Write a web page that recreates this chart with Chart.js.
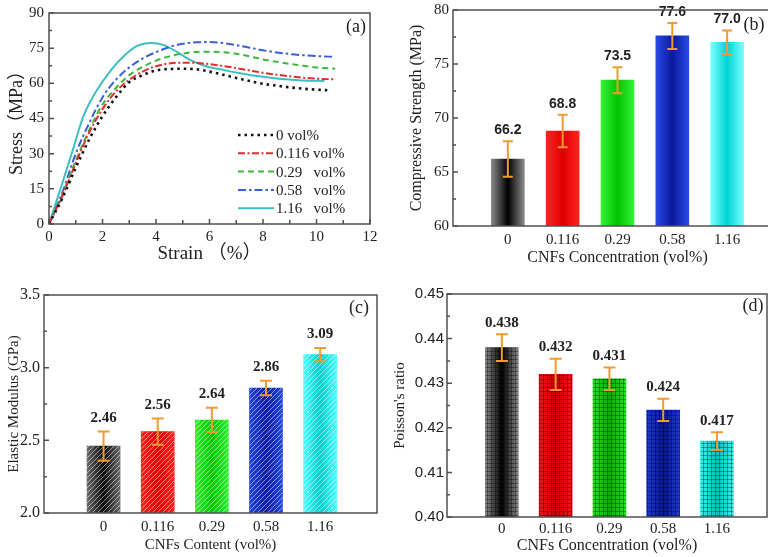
<!DOCTYPE html>
<html><head><meta charset="utf-8">
<script src="https://cdn.jsdelivr.net/npm/chart.js@4.4.1/dist/chart.umd.min.js"></script>
<style>
html,body{margin:0;padding:0;overflow:hidden;background:#fff;width:768px;height:557px}
#wrap{position:relative;width:768px;height:557px;overflow:hidden}
canvas{position:absolute;left:0;top:0}
</style></head><body>
<div id="wrap">
<canvas id="ca" width="768" height="557"></canvas>
<canvas id="cb" width="800" height="557"></canvas>
<canvas id="cc" width="768" height="557"></canvas>
<canvas id="cd" width="768" height="557"></canvas>
</div>
<script>
// ---------------- data ----------------
const seriesLabels = ['0 vol%', '0.116 vol%', '0.29   vol%', '0.58   vol%', '1.16   vol%'];
const strainA = [0,0.5,1,1.5,2,2.5,3,3.5,4,4.5,5,5.5,6,6.5,7,7.5,8,8.5,9,9.5,10,10.5];
const stress0 = [0,11,24,36,46,54,60.5,63.5,65.5,66.1,66.2,66,65,63.7,62.3,61,59.8,59,58.3,57.7,57.3,57];
const strainB = [0,0.5,1,1.5,2,2.5,3,3.5,4,4.5,5,5.5,6,6.5,7,7.5,8,8.5,9,9.5,10,10.7];
const stress0116 = [0,12,26,39,49,56.5,61.5,65,67.3,68.5,68.8,68.7,68.2,67.4,66.5,65.5,64.5,63.7,63,62.4,62,61.7];
const stress029 = [0,12.5,27,40,51,58,63.5,67,69.7,71.5,72.7,73.4,73.5,73.3,72.6,71.5,70.2,69.2,68.3,67.5,66.8,66.2];
const stress058 = [0,13.5,30,43,54,61.5,66.8,70.6,73.3,75.5,76.9,77.5,77.6,77.2,76.3,75.2,74.1,73.2,72.5,72,71.6,71.3];
const strainC = [0,0.5,0.91,1.28,1.72,2.34,2.84,3.28,3.84,4.27,4.77,5.27,5.9,6.4,7,7.5,8,8.5,9,9.5,10.3];
const stress116 = [0,17.5,32.3,45.8,55.8,66,72.1,75.9,77.2,76.4,73.5,70,67.2,66,64.6,63.6,62.8,62.1,61.6,61.2,61];

const concLabels = ['0', '0.116', '0.29', '0.58', '1.16'];
const strength = [66.2, 68.8, 73.5, 77.6, 77.0];
const strengthErr = [1.65, 1.5, 1.2, 1.2, 1.1];
const modulus = [2.46, 2.56, 2.64, 2.86, 3.09];
const modulusErr = [0.10, 0.09, 0.085, 0.05, 0.045];
const poisson = [0.438, 0.432, 0.431, 0.424, 0.417];
const poissonErr = [0.003, 0.0035, 0.0025, 0.0025, 0.002];

// ---------------- styles ----------------
const SERIF = '"Liberation Serif", "Noto Sans CJK SC", serif';
const SANS = '"Liberation Sans", Arial, sans-serif';
const TXT = '#222';
const lineColors = ['#111111', '#e42a2a', '#3bb83b', '#3a5fdc', '#3dbfbf'];
const lineDashes = [[2.5, 4], [7, 2.5, 2, 2.5], [6, 4], [8, 3, 2.5, 3], []];
const lineWidths = [2.6, 2, 2, 2, 2];
const edgeB = ['#8a8a8a', '#ff2424', '#38f038', '#2a4ae6', '#7affff'];
const centerB = ['#000000', '#dd0000', '#00c400', '#0a1a9e', '#00d4d4'];
const edgeC = ['#6a6a6a', '#ff2020', '#30f030', '#2446e0', '#50ffff'];
const centerC = ['#0a0a0a', '#e00000', '#00c800', '#0a1ca8', '#00cccc'];
const edgeD = ['#8a8a8a', '#f01818', '#22e622', '#1c3ad8', '#40f0f0'];
const centerD = ['#000000', '#c80000', '#00b000', '#081890', '#00c0c0'];

function fixSize(w, h) {
  return (s) => {
    if (w != null) s.width = w;
    if (h != null) s.height = h;
    s.paddingLeft = s.paddingRight = s.paddingTop = s.paddingBottom = 0;
  };
}

function framePlugin(o) {
  return {
    id: 'frame' + o.letter,
    afterDraw(chart) {
      const {ctx, chartArea: a} = chart;
      ctx.save();
      ctx.strokeStyle = '#505050'; ctx.lineWidth = 1.5;
      ctx.strokeRect(a.left, a.top, a.right - a.left, a.bottom - a.top);
      const ys = chart.scales.y;
      const yt = ys.ticks.map(t => ys.getPixelForValue(t.value));
      ctx.beginPath();
      yt.forEach((p, i) => {
        ctx.moveTo(a.left, p); ctx.lineTo(a.left + 5, p);
        if (i > 0) { const m = (p + yt[i - 1]) / 2; ctx.moveTo(a.left, m); ctx.lineTo(a.left + 3, m); }
      });
      if (o.xTicks) {
        const xs = chart.scales.x;
        const xt = xs.ticks.map(t => xs.getPixelForValue(t.value));
        xt.forEach((p, i) => {
          ctx.moveTo(p, a.bottom); ctx.lineTo(p, a.bottom - 5);
          if (i > 0) { const m = (p + xt[i - 1]) / 2; ctx.moveTo(m, a.bottom); ctx.lineTo(m, a.bottom - 4); }
        });
      }
      ctx.stroke();
      ctx.fillStyle = TXT; ctx.font = o.font || ('18px ' + SERIF);
      ctx.textAlign = 'center'; ctx.textBaseline = 'middle';
      ctx.fillText('(' + o.letter + ')', o.lx, o.ly);
      ctx.restore();
    }
  };
}

function gradFill(edges, centers, half) {
  return (c) => {
    const chart = c.chart, xs = chart.scales && chart.scales.x;
    const i = c.dataIndex;
    if (c.type !== 'data' || !xs || !chart.chartArea) return centers[i] || '#888';
    const cx = xs.getPixelForValue(i);
    const g = chart.ctx.createLinearGradient(cx - half, 0, cx + half, 0);
    g.addColorStop(0, edges[i]); g.addColorStop(0.5, centers[i]); g.addColorStop(1, edges[i]);
    return g;
  };
}

function makePattern(kind) {
  const cv = document.createElement('canvas');
  const c = cv.getContext('2d');
  if (kind === 'hatch') {
    cv.width = 5; cv.height = 5;
    c.strokeStyle = 'rgba(255,255,255,0.5)'; c.lineWidth = 1;
    c.beginPath();
    c.moveTo(-1, 6); c.lineTo(6, -1);
    c.moveTo(-1, 1); c.lineTo(1, -1);
    c.moveTo(4, 6); c.lineTo(6, 4);
    c.stroke();
  } else {
    cv.width = 4; cv.height = 4;
    c.fillStyle = 'rgba(0,0,0,0.33)';
    c.fillRect(3, 0, 1, 4); c.fillRect(0, 3, 4, 1);
  }
  return c.createPattern(cv, 'repeat');
}

function barDeco(o) {
  return {
    id: 'deco',
    afterDatasetsDraw(chart) {
      const ctx = chart.ctx, ys = chart.scales.y, a = chart.chartArea;
      const meta = chart.getDatasetMeta(0);
      ctx.save();
      if (o.pattern) {
        const pat = makePattern(o.pattern);
        ctx.save();
        ctx.beginPath(); ctx.rect(a.left, a.top, a.right - a.left, a.bottom - a.top); ctx.clip();
        meta.data.forEach(el => {
          ctx.fillStyle = pat;
          ctx.fillRect(el.x - el.width / 2, el.y, el.width, el.base - el.y);
        });
        ctx.restore();
      }
      ctx.strokeStyle = '#f29a2e'; ctx.lineWidth = 2;
      ctx.fillStyle = TXT; ctx.font = o.font;
      ctx.textAlign = 'center'; ctx.textBaseline = 'bottom';
      meta.data.forEach((el, i) => {
        const v = o.values[i], e = o.errors[i];
        const t = ys.getPixelForValue(v + e), b = ys.getPixelForValue(v - e);
        const x = el.x;
        ctx.beginPath();
        ctx.moveTo(x, t); ctx.lineTo(x, b);
        ctx.moveTo(x - o.cap, t); ctx.lineTo(x + o.cap, t);
        ctx.moveTo(x - o.cap, b); ctx.lineTo(x + o.cap, b);
        ctx.stroke();
        ctx.fillText(v.toFixed(o.decimals), x, t - o.gap);
      });
      ctx.restore();
    }
  };
}

const legendA = {
  id: 'legendA',
  afterDraw(chart) {
    const ctx = chart.ctx;
    ctx.save();
    ctx.font = '15px ' + SERIF; ctx.fillStyle = TXT;
    ctx.textAlign = 'left'; ctx.textBaseline = 'middle';
    chart.data.datasets.forEach((ds, i) => {
      const y = 135 + i * 18.3;
      ctx.strokeStyle = ds.borderColor; ctx.lineWidth = ds.borderWidth;
      ctx.setLineDash(ds.borderDash || []);
      ctx.beginPath(); ctx.moveTo(238, y); ctx.lineTo(274, y); ctx.stroke();
      ctx.setLineDash([]);
      ctx.fillText(ds.label, 276, y + 1);
    });
    ctx.restore();
  }
};

Chart.defaults.font.family = SERIF;
Chart.defaults.color = TXT;

const common = { responsive: false, animation: false, devicePixelRatio: 1, events: [] };

function xyOf(xs, ys) { return xs.map((x, i) => ({x, y: ys[i]})); }

// -------- (a) stress-strain --------
const curves = [[strainA, stress0], [strainB, stress0116], [strainB, stress029], [strainB, stress058], [strainC, stress116]];
new Chart(document.getElementById('ca'), {
  type: 'line',
  data: {
    datasets: curves.map((c, i) => ({
      label: seriesLabels[i], data: xyOf(c[0], c[1]),
      borderColor: lineColors[i], borderDash: lineDashes[i], borderWidth: lineWidths[i],
      pointRadius: 0, fill: false, cubicInterpolationMode: 'monotone'
    }))
  },
  options: Object.assign({}, common, {
    layout: { padding: { left: 6, right: 398, top: 13, bottom: 292 } },
    plugins: { legend: { display: false }, tooltip: { enabled: false } },
    scales: {
      x: { type: 'linear', min: 0, max: 12, offset: false,
        ticks: { stepSize: 2, padding: 4, font: { size: 15 }, maxRotation: 0 },
        grid: { display: false, drawTicks: false }, border: { display: false },
        title: { display: true, text: 'Strain （%）', font: { size: 19 }, padding: 0 },
        afterFit: fixSize(null, 41) },
      y: { min: 0, max: 90,
        ticks: { stepSize: 15, padding: 5, font: { size: 15 } },
        grid: { display: false, drawTicks: false }, border: { display: false },
        title: { display: true, text: 'Stress（MPa）', font: { size: 18 }, padding: 0 },
        afterFit: fixSize(43, null) }
    }
  }),
  plugins: [framePlugin({ letter: 'a', lx: 356, ly: 27, xTicks: true }), legendA]
});

// -------- bar panel factory --------
function barPanel(id, vals, errs, edges, centers, cfg) {
  new Chart(document.getElementById(id), {
    type: 'bar',
    data: { datasets: [{ data: vals.map((v, i) => ({x: i, y: v})),
      backgroundColor: gradFill(edges, centers, 16.5), barThickness: 33, borderWidth: 0 }] },
    options: Object.assign({}, common, {
      layout: { padding: cfg.pad },
      plugins: { legend: { display: false }, tooltip: { enabled: false } },
      scales: {
        x: { type: 'linear', min: cfg.xmin, max: cfg.xmax, offset: false,
          afterBuildTicks: (s) => { s.ticks = concLabels.map((_, i) => ({ value: i })); },
          ticks: { callback: (v) => concLabels[v], padding: cfg.xpad, font: { size: 15 }, maxRotation: 0, autoSkip: false },
          grid: { display: false, drawTicks: false, offset: false }, border: { display: false },
          title: { display: true, text: cfg.xtitle, font: { size: cfg.xtsize }, padding: 0 },
          afterFit: fixSize(null, cfg.xh) },
        y: { min: cfg.ymin, max: cfg.ymax,
          ticks: { stepSize: cfg.step, padding: cfg.ypad, font: cfg.yfont,
            callback: (v) => v.toFixed(cfg.ydec) },
          grid: { display: false, drawTicks: false }, border: { display: false },
          title: { display: true, text: cfg.ytitle, font: { size: cfg.ytsize }, padding: 0 },
          afterFit: fixSize(cfg.yw, null) }
      }
    }),
    plugins: [barDeco(Object.assign({ values: vals, errors: errs }, cfg.deco)),
              framePlugin({ letter: cfg.letter, lx: cfg.lx, ly: cfg.ly })]
  });
}

// (b) compressive strength
barPanel('cb', strength, strengthErr, edgeB, centerB, {
  pad: { left: 407, right: 18, top: 10, bottom: 290 }, yw: 46, xh: 41,
  xmin: -1, xmax: 5, xpad: 5, ypad: 4, ymin: 60, ymax: 80, step: 5, ydec: 0,
  yfont: { size: 15 }, xtitle: 'CNFs Concentration (vol%)', xtsize: 16,
  ytitle: 'Compressive Strength (MPa)', ytsize: 16,
  deco: { decimals: 1, font: 'bold 14px ' + SANS, cap: 5, gap: 4 },
  letter: 'b', lx: 754, ly: 25
});

// (c) elastic modulus
barPanel('cc', modulus, modulusErr, edgeC, centerC, {
  pad: { left: 5, right: 391, top: 295, bottom: 3 }, yw: 39, xh: 41,
  xmin: -1.1, xmax: 5.05, xpad: 5, ypad: 4, ymin: 2.0, ymax: 3.5, step: 0.5, ydec: 1,
  yfont: { size: 16 }, xtitle: 'CNFs Content (vol%)', xtsize: 15,
  ytitle: 'Elastic Modulus (GPa)', ytsize: 15,
  deco: { decimals: 2, font: 'bold 15px ' + SERIF, cap: 6, gap: 6, pattern: 'hatch' },
  letter: 'c', lx: 359, ly: 308
});

// (d) Poisson's ratio
barPanel('cd', poisson, poissonErr, edgeD, centerD, {
  pad: { left: 391, right: 1, top: 294, bottom: 2 }, yw: 56, xh: 38,
  xmin: -1.02, xmax: 4.93, xpad: 3, ypad: 3, ymin: 0.40, ymax: 0.45, step: 0.01, ydec: 2,
  yfont: { size: 15, family: SANS }, xtitle: 'CNFs Concentration (vol%)', xtsize: 16,
  ytitle: "Poisson's ratio", ytsize: 15,
  deco: { decimals: 3, font: 'bold 15px ' + SERIF, cap: 6, gap: 4, pattern: 'mesh' },
  letter: 'd', lx: 753, ly: 306
});
</script>
</body></html>
